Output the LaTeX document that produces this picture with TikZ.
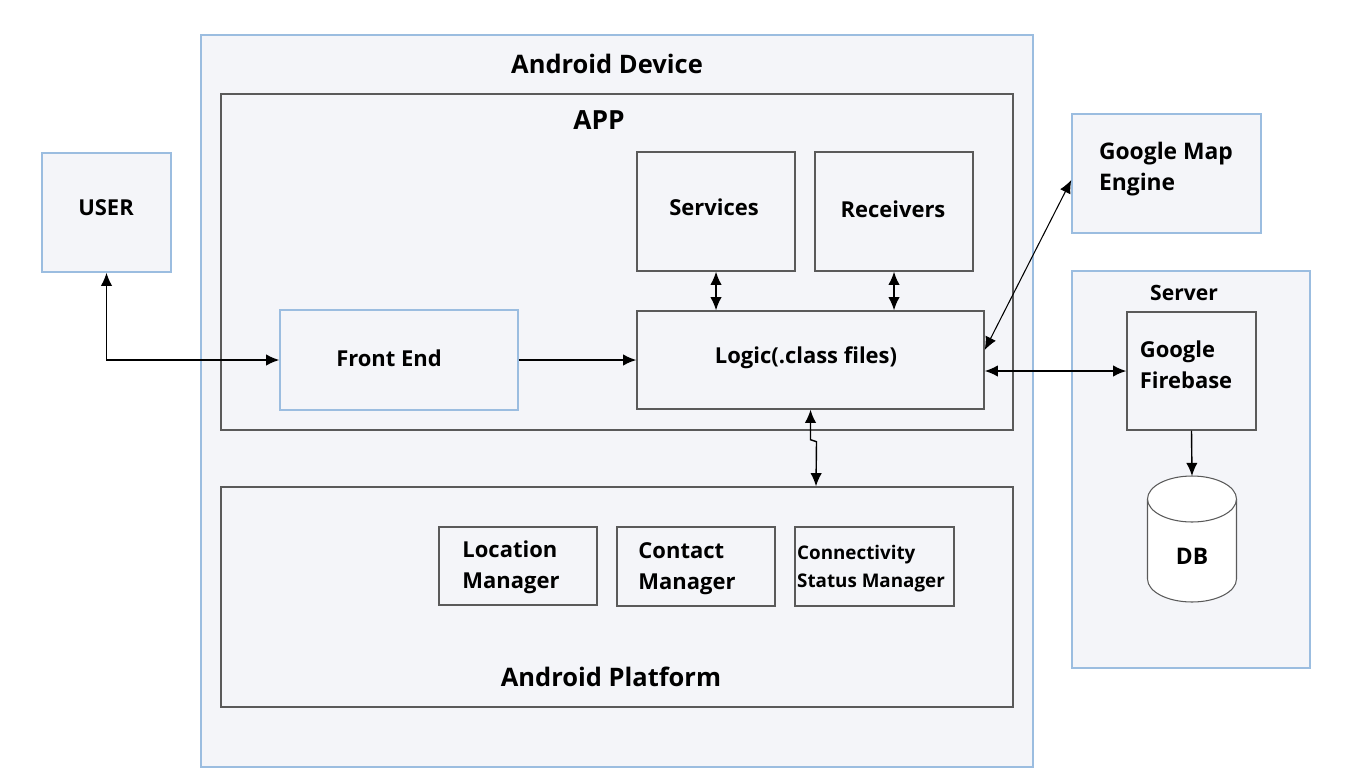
\documentclass[tikz,border=0pt]{standalone}
\usepackage{fontspec}
\setmainfont{Open Sans}
\usetikzlibrary{fit,arrows.meta}
\definecolor{boxblue}{HTML}{9BBDE0}
\definecolor{boxgray}{HTML}{5A5A5A}
\definecolor{boxfill}{HTML}{F4F5F9}
\begin{document}
\begin{tikzpicture}[x=0.02cm, y=-0.02cm, line width=0.8pt,
    bluebox/.style={draw=boxblue, fill=boxfill, inner sep=0pt},
    graybox/.style={draw=boxgray, fill=boxfill, inner sep=0pt},
    txt/.style={font=\fontsize{12.5}{17.6}\selectfont\bfseries, align=left, inner sep=0pt},
    smalltxt/.style={font=\fontsize{10.7}{15.9}\selectfont\bfseries, align=left, inner sep=0pt},
    title/.style={font=\fontsize{14.5}{17}\selectfont\bfseries, inner sep=0pt},
    conn/.style={-{Latex[length=7.5pt,width=6.5pt]}},
    biconn/.style={{Latex[length=7.5pt,width=6.5pt]}-{Latex[length=7.5pt,width=6.5pt]}}]
    % canvas
    \fill[white] (0, 0) rectangle (1363, 781);
    \useasboundingbox (0, 0) rectangle (1363, 781);

    % draw containers
    \node[bluebox, fit={(201, 35) (1033, 767)}] (dev) {};
    \node[title] (dev-title) at (607, 64) {Android Device};
    \node[graybox, fit={(221, 94) (1013, 430)}] (app) {};
    \node[title, font=\fontsize{15}{17}\selectfont\bfseries] (app-title) at (599, 120) {APP};
    \node[graybox, fit={(221, 487) (1013, 707)}] (platform) {};
    \node[title] (platform-title) at (611, 677) {Android Platform};
    \node[bluebox, fit={(1072, 271) (1310, 668)}] (server) {};
    \node[title, font=\fontsize{12}{14}\selectfont\bfseries] (server-title) at (1184, 293) {Server};

    % draw boxes
    \node[bluebox, fit={(42, 153) (171, 272)}] (user) {};
    \node[bluebox, fit={(280, 310) (518, 410)}] (frontend) {};
    \node[graybox, fit={(637, 152) (795, 271)}] (services) {};
    \node[graybox, fit={(815, 152) (973, 271)}] (receivers) {};
    \node[graybox, fit={(637, 311) (984, 409)}] (logic) {};
    \node[graybox, fit={(439, 527) (597, 605)}] (location) {};
    \node[graybox, fit={(617, 527) (775, 606)}] (contact) {};
    \node[graybox, fit={(795, 527) (954, 606)}] (connectivity) {};
    \node[bluebox, fit={(1072, 114) (1261, 233)}] (gmap) {};
    \node[graybox, fit={(1127, 312) (1256, 430)}] (firebase) {};

    % draw box texts
    \node[txt] (user-txt) at (106, 208) {USER};
    \node[txt] (frontend-txt) at (389, 358) {Front End};
    \node[txt] (services-txt) at (714, 207) {Services};
    \node[txt] (receivers-txt) at (893, 209) {Receivers};
    \node[txt] (logic-txt) at (806, 358) {Logic(.class files)};
    \node[txt] (location-txt) at (511, 567) {Location\\Manager};
    \node[txt] (contact-txt) at (687, 569) {Contact\\Manager};
    \node[smalltxt] (connectivity-txt) at (871, 569) {Connectivity\\Status Manager};
    \node[txt, font=\fontsize{13}{17.6}\selectfont\bfseries] (gmap-txt) at (1166, 169) {Google Map\\Engine};
    \node[txt] (firebase-txt) at (1186, 365) {Google\\Firebase};

    % draw database
    \draw[boxgray, fill=white, line width=0.6pt] (1147.5, 499) -- (1147.5, 579) arc (180:360:0.89cm and 0.46cm) -- (1236.5, 499);
    \draw[boxgray, fill=white, line width=0.6pt] (1192, 499) ellipse (0.89cm and 0.46cm);
    \coordinate (dbtop) at (1192, 476);
    \node[txt, font=\fontsize{13}{15}\selectfont\bfseries] (db) at (1192, 556) {DB};

    % draw connectors
    \draw[biconn] (user.south) |- (frontend.west);
    \draw[conn] (frontend.east) -- (frontend.east -| logic.west);
    \draw[biconn] (services.south) -- (services.south |- logic.north);
    \draw[biconn] (receivers.south) -- (receivers.south |- logic.north);
    \draw[biconn] (logic.south) -- ++(0, 30) -- ++(6, 2) -- (816,0 |- platform.north);
    \draw[biconn, line width=0.6pt] ([yshift=0.2cm]logic.east) -- ([yshift=-0.13cm]gmap.west);
    \draw[biconn] (firebase.west -| logic.east) -- (firebase.west);
    \draw[conn] (firebase.south) -- (dbtop);
\end{tikzpicture}
\end{document}
